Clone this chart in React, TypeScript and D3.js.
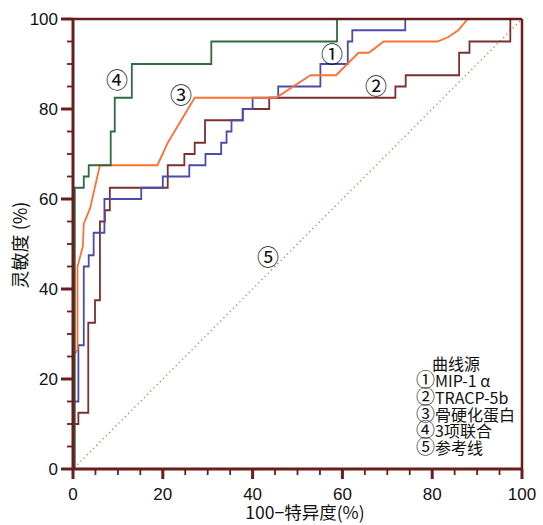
import React from "react";
import * as d3 from "d3";

type Pt = [number, number];

// ① MIP-1α
const mip1a: Pt[] = [
  [0, 0], [0, 15], [1.2, 15], [1.2, 27.5], [2.4, 27.5], [2.4, 45], [3.5, 45], [3.5, 47.5],
  [4.6, 47.5], [4.6, 52.5], [7, 52.5], [7, 60], [15.2, 60], [15.2, 62.5], [20, 62.5], [20, 65],
  [25.9, 65], [25.9, 67.5], [29.5, 67.5], [29.5, 70], [33, 70], [33, 72.5], [34.2, 72.5], [34.2, 75],
  [35.3, 75], [35.3, 77.5], [37.8, 77.5], [37.8, 80], [40, 80], [40, 82.5], [45.7, 82.5], [45.7, 85],
  [55.1, 85], [55.1, 90], [61.2, 90], [61.2, 95], [62.2, 95], [62.2, 97.5], [74, 97.5], [74, 100],
  [100, 100],
];

// ② TRACP-5b
const tracp5b: Pt[] = [
  [0, 0], [0, 10], [1.2, 10], [1.2, 12.5], [3.4, 12.5], [3.4, 32.5], [4.9, 32.5], [4.9, 37.5],
  [6, 37.5], [6, 55], [7.1, 55], [7.1, 57.5], [8.2, 57.5], [8.2, 62.5], [21.1, 62.5], [21.1, 67.5],
  [24.8, 67.5], [24.8, 70], [27.1, 70], [27.1, 72.5], [29.4, 72.5], [29.4, 77.5], [37.8, 77.5],
  [37.8, 80], [43.7, 80], [43.7, 82.5], [71.8, 82.5], [71.8, 85], [74.1, 85], [74.1, 87.5],
  [86, 87.5], [86, 92.5], [88.3, 92.5], [88.3, 95], [97.4, 95], [97.4, 100], [100, 100],
];

// ③ 骨硬化蛋白
const sclerostin: Pt[] = [
  [0, 0], [0, 25], [1, 26.5], [1, 45], [2.2, 49.5], [2.4, 54.5], [3.8, 57.9], [6, 67.5],
  [18.8, 67.5], [21.1, 72.5], [27.1, 82.5], [45.2, 82.5], [52.9, 87.5], [58.6, 87.5],
  [63.6, 92.5], [65.9, 92.5], [69.2, 95], [81.2, 95], [83.6, 96], [85.8, 97.5], [87.9, 100],
  [100, 100],
];

// ④ 3项联合
const combined: Pt[] = [
  [0.4, 0], [0.4, 62.5], [2.4, 62.5], [2.4, 65], [3.5, 65], [3.5, 67.5], [8.4, 67.5], [8.4, 75],
  [9.3, 75], [9.3, 82.5], [13.1, 82.5], [13.1, 90], [30.8, 90], [30.8, 95], [58.8, 95],
  [58.8, 100], [100, 100],
];

// ⑤ 参考线
const reference: Pt[] = [[0, 0], [100, 100]];

const xTicks = [0, 20, 40, 60, 80, 100];
const yTicks = [0, 20, 40, 60, 80, 100];
const minorTicks = d3.range(0, 101, 5);

const legendMarks = ["①", "②", "③", "④", "⑤"];
const legendNames = ["MIP-1 α", "TRACP-5b", "骨硬化蛋白", "3项联合", "参考线"];

const AXIS = "#6b1c1c";
const CJK = "'Noto Sans CJK SC', sans-serif";
const NUM = "'Liberation Sans', Arial, sans-serif";

export default function App() {
  const x = d3.scaleLinear().domain([0, 100]).range([73, 522]);
  const y = d3.scaleLinear().domain([0, 100]).range([469, 19]);
  const line = d3.line<Pt>().x((d) => x(d[0])).y((d) => y(d[1]));

  const series = [
    { data: tracp5b, color: "#7d2e2e" },
    { data: mip1a, color: "#4b4bab" },
    { data: sclerostin, color: "#ff7033" },
    { data: combined, color: "#2e6b3e" },
  ];

  return (
    <svg
      width={543}
      height={525}
      style={{ position: "absolute", left: 0, top: 0, background: "#fff" }}
    >
      <rect x={0} y={0} width={543} height={525} fill="#fff" />
      {/* reference line */}
      <path
        d={line(reference) || ""}
        fill="none"
        stroke="#c7806d"
        strokeWidth={1.4}
        strokeDasharray="1.3 3.2"
        strokeDashoffset={-6}
      />
      {series.map((s, i) => (
        <path key={i} d={line(s.data) || ""} fill="none" stroke={s.color} strokeWidth={1.8} />
      ))}

      {/* frame */}
      <line x1={x(0)} x2={x(100)} y1={y(100)} y2={y(100)} stroke={AXIS} strokeWidth={2.5} />
      <line x1={x(100)} x2={x(100)} y1={y(100)} y2={y(0)} stroke={AXIS} strokeWidth={2.5} />
      <line x1={x(0)} x2={x(0)} y1={y(100) - 1} y2={y(0) + 1} stroke={AXIS} strokeWidth={3} />
      <line x1={x(0) - 1} x2={x(100) + 1} y1={y(0)} y2={y(0)} stroke={AXIS} strokeWidth={3} />

      {/* ticks */}
      {minorTicks.map((t) => {
        const major = t % 20 === 0;
        return (
          <g key={t}>
            <line
              x1={x(0) - (major ? 12 : 6)}
              x2={x(0)}
              y1={y(t)}
              y2={y(t)}
              stroke={AXIS}
              strokeWidth={major ? 3 : 1.8}
            />
            <line
              x1={x(t)}
              x2={x(t)}
              y1={y(0)}
              y2={y(0) + (major ? 10 : 6)}
              stroke={AXIS}
              strokeWidth={major ? 3 : 1.8}
            />
          </g>
        );
      })}

      {yTicks.map((t) => (
        <text key={t} x={58} y={y(t)} dy="0.36em" textAnchor="end" fontFamily={NUM} fontSize={17} fill="#111">
          {t}
        </text>
      ))}
      {xTicks.map((t) => (
        <text key={t} x={x(t)} y={494} dy="0.36em" textAnchor="middle" fontFamily={NUM} fontSize={17} fill="#111">
          {t}
        </text>
      ))}

      <text x={305} y={513} dy="0.36em" textAnchor="middle" fontFamily={CJK} fontSize={17.5} fill="#111">
        100−特异度(%)
      </text>
      <text
        transform="translate(21,245) rotate(-90)"
        textAnchor="middle"
        dy="0.36em"
        fontFamily={CJK}
        fontSize={18}
        fill="#111"
      >
        灵敏度 (%)
      </text>

      {/* curve labels */}
      {[
        { t: "①", px: 332, py: 54 },
        { t: "②", px: 376, py: 86 },
        { t: "③", px: 181, py: 95 },
        { t: "④", px: 117, py: 80 },
        { t: "⑤", px: 268, py: 257 },
      ].map((l) => (
        <text key={l.t} x={l.px} y={l.py} dy="0.36em" textAnchor="middle" fontFamily={CJK} fontSize={22} fill="#111">
          {l.t}
        </text>
      ))}

      {/* legend */}
      <text x={456} y={364} dy="0.36em" textAnchor="middle" fontFamily={CJK} fontSize={16} fill="#111">
        曲线源
      </text>
      {legendNames.map((l, i) => (
        <text key={l} x={416} y={381 + i * 16.9} dy="0.36em" fontFamily={CJK} fontSize={16} fill="#111">
          <tspan fontSize={19}>{legendMarks[i]}</tspan>
          <tspan>{l}</tspan>
        </text>
      ))}
    </svg>
  );
}
